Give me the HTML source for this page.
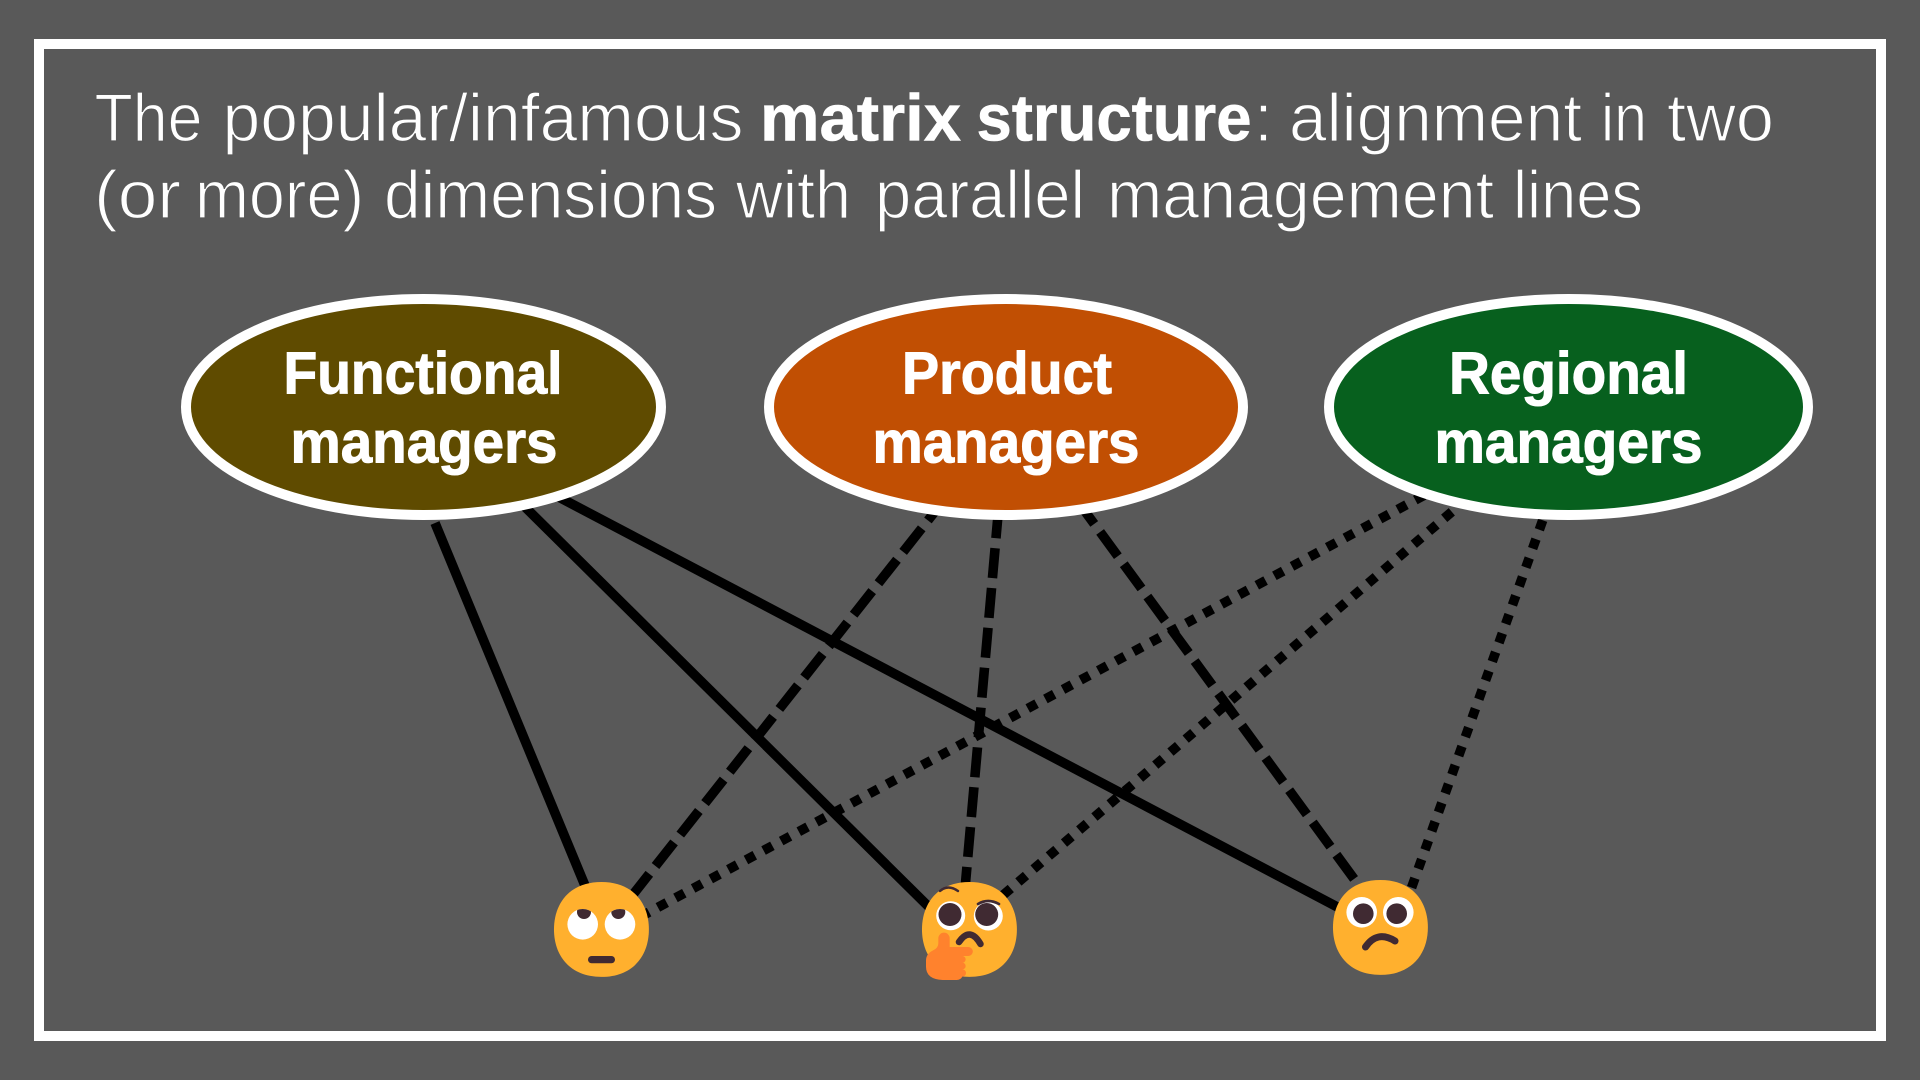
<!DOCTYPE html>
<html lang="en"><head><meta charset="utf-8"><title>Matrix structure</title>
<style>html,body{margin:0;padding:0;background:#595959;width:1920px;height:1080px;overflow:hidden}svg{display:block}
.t{font:400 68px "Liberation Sans",sans-serif;fill:#fff;stroke:#595959;stroke-width:1.3px}
.b{font:700 66px "Liberation Sans",sans-serif;fill:#fff;stroke:#fff;stroke-width:.6px}
.n{font:700 59px "Liberation Sans",sans-serif;fill:#fff;stroke:#fff;stroke-width:1px}
</style></head><body>
<svg width="1920" height="1080" viewBox="0 0 1920 1080" xmlns="http://www.w3.org/2000/svg">
<rect width="1920" height="1080" fill="#595959"/>
<rect x="39" y="44" width="1842" height="992" fill="none" stroke="#fff" stroke-width="10"/>

<text class="t" x="94.5" y="141" textLength="108" lengthAdjust="spacingAndGlyphs">The</text>
<text class="t" x="222.5" y="141" textLength="521" lengthAdjust="spacingAndGlyphs">popular/infamous</text>
<text class="b" x="760" y="140.5" textLength="201" lengthAdjust="spacingAndGlyphs">matrix</text>
<text class="b" x="976.5" y="140.5" textLength="275" lengthAdjust="spacingAndGlyphs">structure</text>
<text class="t" x="1254" y="141">:</text>
<text class="t" x="1289" y="141" textLength="293" lengthAdjust="spacingAndGlyphs">alignment</text>
<text class="t" x="1601" y="141" textLength="46" lengthAdjust="spacingAndGlyphs">in</text>
<text class="t" x="1667" y="141" textLength="107" lengthAdjust="spacingAndGlyphs">two</text>
<text class="t" x="94" y="218" textLength="87" lengthAdjust="spacingAndGlyphs">(or</text>
<text class="t" x="195" y="218" textLength="169" lengthAdjust="spacingAndGlyphs">more)</text>
<text class="t" x="384" y="218" textLength="333" lengthAdjust="spacingAndGlyphs">dimensions</text>
<text class="t" x="736" y="218" textLength="115" lengthAdjust="spacingAndGlyphs">with</text>
<text class="t" x="875" y="218" textLength="210" lengthAdjust="spacingAndGlyphs">parallel</text>
<text class="t" x="1107" y="218" textLength="387" lengthAdjust="spacingAndGlyphs">management</text>
<text class="t" x="1513" y="218" textLength="130" lengthAdjust="spacingAndGlyphs">lines</text>

<g fill="none" stroke="#000" stroke-width="9.6">
<line x1="435" y1="523" x2="586" y2="888"/>
<line x1="525" y1="507" x2="935" y2="913"/>
<line x1="552" y1="493.5" x2="1345" y2="911"/>
<g stroke-dasharray="30 10">
<line x1="946.5" y1="496.9" x2="620" y2="911"/>
<line x1="998.6" y1="508.3" x2="964" y2="900"/>
<line x1="1076.5" y1="499.7" x2="1360" y2="887"/>
</g>
<g stroke-dasharray="10 10">
<line x1="1424.1" y1="495.3" x2="640" y2="917"/>
<line x1="1451.8" y1="511.8" x2="995" y2="902"/>
<line x1="1542.7" y1="520.3" x2="1410" y2="892"/>
</g>
</g>

<g stroke="#fff" stroke-width="10">
<ellipse cx="423.5" cy="407" rx="237.5" ry="108" fill="#5f4b00"/>
<ellipse cx="1006" cy="407" rx="237" ry="108" fill="#c14f03"/>
<ellipse cx="1568.5" cy="407" rx="239.5" ry="108" fill="#07601e"/>
</g>
<text class="n" x="283.5" y="393.5" textLength="279" lengthAdjust="spacingAndGlyphs">Functional</text>
<text class="n" x="290.5" y="462.5" textLength="267" lengthAdjust="spacingAndGlyphs">managers</text>
<text class="n" x="902" y="393.5" textLength="210" lengthAdjust="spacingAndGlyphs">Product</text>
<text class="n" x="872.5" y="462.5" textLength="267" lengthAdjust="spacingAndGlyphs">managers</text>
<text class="n" x="1449" y="393.5" textLength="239" lengthAdjust="spacingAndGlyphs">Regional</text>
<text class="n" x="1434.5" y="462.5" textLength="268" lengthAdjust="spacingAndGlyphs">managers</text>

<defs>
<path id="face" d="M15.9989 29.9978C25.3333 29.9978 29.9978 23.7303 29.9978 15.9989C29.9978 8.26751 25.3333 2 15.9989 2C6.66443 2 2 8.26751 2 15.9989C2 23.7303 6.66443 29.9978 15.9989 29.9978Z" fill="#FFB02E"/>
<clipPath id="e1"><circle cx="582.7" cy="924.3" r="15.3"/></clipPath>
<clipPath id="e2"><circle cx="620" cy="924.3" r="15.3"/></clipPath>
</defs>

<!-- emoji 1 -->
<use href="#face" transform="translate(547.2 875.2) scale(3.39)"/>
<circle cx="582.7" cy="924.3" r="15.3" fill="#fff"/>
<circle cx="620" cy="924.3" r="15.3" fill="#fff"/>
<circle cx="584" cy="912" r="7" fill="#402A32" clip-path="url(#e1)"/>
<circle cx="618.3" cy="912" r="7" fill="#402A32" clip-path="url(#e2)"/>
<rect x="588" y="956" width="27" height="7.3" rx="3.6" fill="#402A32"/>

<!-- emoji 2 -->
<use href="#face" transform="translate(915.2 875.2) scale(3.39)"/>
<circle cx="950.7" cy="915.7" r="14.5" fill="#fff"/>
<circle cx="988.3" cy="916" r="14.5" fill="#fff"/>
<circle cx="950" cy="914.5" r="11.5" fill="#402A32"/>
<circle cx="986.7" cy="914.5" r="11.5" fill="#402A32"/>
<g fill="none" stroke="#402A32" stroke-linecap="round">
<path d="M940 891Q948 884 958 891" stroke-width="2.4"/>
<path d="M978 904Q988 898 999 904" stroke-width="2.6"/>
<path d="M959 942Q970 926 980.5 944" stroke-width="6.5"/>
</g>
<g transform="translate(520 850) scale(.33333)">
<path fill="#FF822D" d="M1255 265a17 17 0 0 1 34 0V291H1345a13 13 0 0 1 0 27H1327a10 10 0 0 1 0 20a10 10 0 0 1 0 20a11 11 0 0 1 0 22Q1322 390 1310 390H1268Q1218 388 1218 350V332Q1218 312 1238 302Q1255 294 1255 280Z"/>
</g>

<!-- emoji 3 -->
<use href="#face" transform="translate(1326.2 873.2) scale(3.39)"/>
<circle cx="1361.7" cy="912.3" r="15.3" fill="#fff"/>
<circle cx="1398.3" cy="912.3" r="15.3" fill="#fff"/>
<circle cx="1363.3" cy="913.7" r="10.3" fill="#402A32"/>
<circle cx="1396.7" cy="913.7" r="10.3" fill="#402A32"/>
<path d="M1365.5 947Q1377 930 1395 941" fill="none" stroke="#402A32" stroke-width="7" stroke-linecap="round"/>
</svg>
</body></html>
